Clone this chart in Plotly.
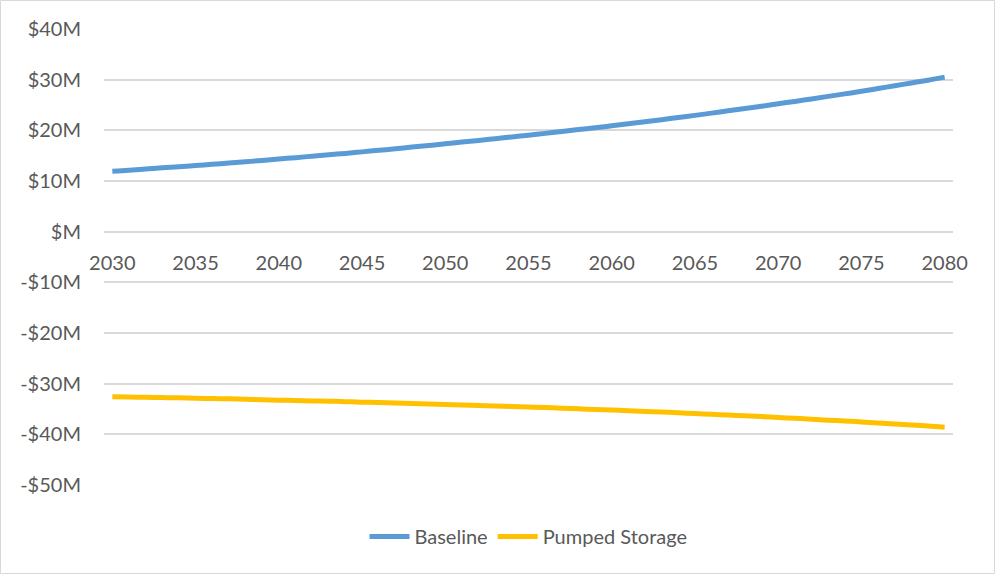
import plotly.graph_objects as go

years = list(range(2030, 2081))

baseline = [
    11.9, 12.1, 12.35, 12.6, 12.8, 13.05, 13.3, 13.55, 13.8, 14.05,
    14.35, 14.6, 14.9, 15.2, 15.45, 15.75, 16.05, 16.35, 16.7, 17.0,
    17.35, 17.7, 18.0, 18.35, 18.7, 19.05, 19.4, 19.75, 20.15, 20.5,
    20.9, 21.3, 21.7, 22.1, 22.55, 22.95, 23.4, 23.85, 24.3, 24.75,
    25.25, 25.7, 26.2, 26.7, 27.2, 27.7, 28.25, 28.8, 29.35, 29.9,
    30.5,
]

pumped_storage = [
    -32.6, -32.65, -32.7, -32.75, -32.8, -32.9, -32.95, -33.0, -33.1, -33.15,
    -33.25, -33.3, -33.4, -33.45, -33.55, -33.65, -33.7, -33.8, -33.9, -34.0,
    -34.1, -34.2, -34.3, -34.4, -34.5, -34.6, -34.7, -34.85, -34.95, -35.1,
    -35.2, -35.35, -35.5, -35.6, -35.75, -35.9, -36.05, -36.2, -36.35, -36.5,
    -36.7, -36.85, -37.0, -37.2, -37.35, -37.55, -37.75, -37.95, -38.15, -38.35,
    -38.6,
]

x_ticks = list(range(2030, 2081, 5))
y_ticks = list(range(-50, 41, 10))
y_labels = [("-$%dM" % -v) if v < 0 else ("$M" if v == 0 else "$%dM" % v) for v in y_ticks]

font_family = "Lato, 'Open Sans', sans-serif"
text_color = "#595959"
grid_color = "#d9d9d9"

fig = go.Figure()
fig.add_trace(go.Scatter(x=years, y=baseline, mode="lines", name="Baseline",
                         line=dict(color="#5B9BD5", width=5, shape="spline", smoothing=1.0)))
fig.add_trace(go.Scatter(x=years, y=pumped_storage, mode="lines", name="Pumped Storage",
                         line=dict(color="#FFC000", width=5, shape="spline", smoothing=1.0)))

W, H = 996, 575
ml, mr, mt, mb = 104, 43, 29, 90
pw, ph = W - ml - mr, H - mt - mb

fig.update_layout(
    width=W, height=H,
    margin=dict(l=ml, r=mr, t=mt, b=mb),
    paper_bgcolor="white", plot_bgcolor="white",
    font=dict(family=font_family, size=20, color=text_color),
    showlegend=True,
    legend=dict(orientation="h", x=0.5, xanchor="center", y=-0.07, yanchor="top",
                font=dict(size=20, color=text_color), itemwidth=40,
                tracegroupgap=0),
    xaxis=dict(
        range=[2029.5, 2080.5],
        tickvals=x_ticks, ticktext=[str(v) for v in x_ticks],
        showgrid=False, zeroline=False,
        showline=True, linecolor=grid_color, linewidth=1.5,
        anchor="free", position=50 / 90,
        ticks="", ticklabelstandoff=14,
        tickfont=dict(size=20, color=text_color),
    ),
    yaxis=dict(
        range=[-50, 40],
        tickvals=y_ticks, ticktext=y_labels,
        showgrid=True, gridcolor=grid_color, gridwidth=1.5,
        zeroline=False, showline=False, ticks="",
        ticklabelstandoff=22,
        tickfont=dict(size=20, color=text_color),
    ),
    shapes=[dict(type="rect", xref="paper", yref="paper",
                 x0=-(ml - 0.5) / pw, x1=1 + (mr - 1.5) / pw,
                 y0=-(mb - 1.5) / ph, y1=1 + (mt - 0.5) / ph,
                 line=dict(color=grid_color, width=1), layer="below")],
)

fig.write_html("out.html")
